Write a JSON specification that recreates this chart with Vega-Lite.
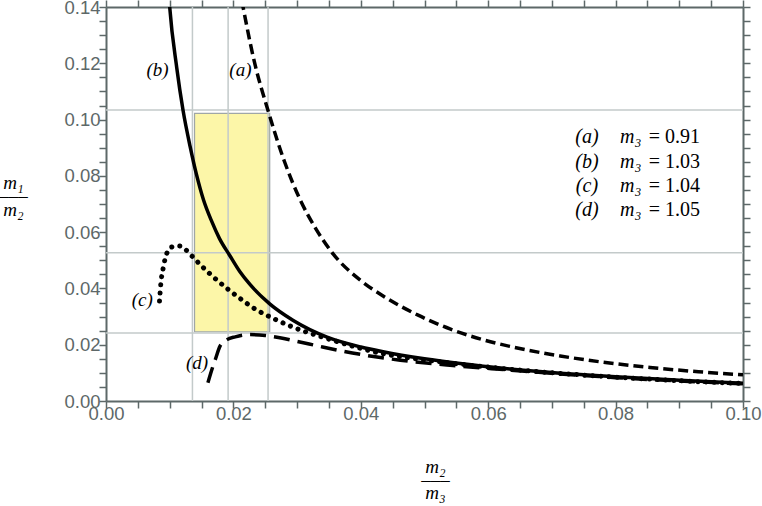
{
  "$schema": "https://vega.github.io/schema/vega-lite/v6.json",
  "width": 637,
  "height": 394,
  "autosize": {"type": "none"},
  "padding": {"left": 106, "top": 7, "right": 19, "bottom": 105},
  "background": "white",
  "config": {
    "view": {"stroke": null},
    "axis": {
      "grid": false,
      "domainColor": "#5d6868",
      "domainWidth": 2,
      "tickColor": "#5d6868",
      "tickWidth": 1.5,
      "labelColor": "#5d6868",
      "labelFont": "Liberation Sans",
      "labelFontSize": 18.5,
      "labelOverlap": false,
      "labelFlush": false,
      "labelBound": false
    }
  },
  "datasets": {
    "curves": [
      {"curve": "a", "x": 0.0213, "y": 0.1425},
      {"curve": "a", "x": 0.0234, "y": 0.1195},
      {"curve": "a", "x": 0.0254, "y": 0.1035},
      {"curve": "a", "x": 0.0280, "y": 0.0852},
      {"curve": "a", "x": 0.0305, "y": 0.0714},
      {"curve": "a", "x": 0.0330, "y": 0.0610},
      {"curve": "a", "x": 0.0355, "y": 0.0527},
      {"curve": "a", "x": 0.0400, "y": 0.0428},
      {"curve": "a", "x": 0.0435, "y": 0.0373},
      {"curve": "a", "x": 0.0490, "y": 0.0305},
      {"curve": "a", "x": 0.0540, "y": 0.0256},
      {"curve": "a", "x": 0.0590, "y": 0.0219},
      {"curve": "a", "x": 0.0634, "y": 0.0194},
      {"curve": "a", "x": 0.0713, "y": 0.0160},
      {"curve": "a", "x": 0.0780, "y": 0.0138},
      {"curve": "a", "x": 0.0854, "y": 0.0119},
      {"curve": "a", "x": 0.0930, "y": 0.0104},
      {"curve": "a", "x": 0.1000, "y": 0.0093},
      {"curve": "b", "x": 0.0099, "y": 0.1430},
      {"curve": "b", "x": 0.0100, "y": 0.1400},
      {"curve": "b", "x": 0.0111, "y": 0.1185},
      {"curve": "b", "x": 0.0121, "y": 0.1032},
      {"curve": "b", "x": 0.0132, "y": 0.0905},
      {"curve": "b", "x": 0.0142, "y": 0.0805},
      {"curve": "b", "x": 0.0153, "y": 0.0715},
      {"curve": "b", "x": 0.0166, "y": 0.0638},
      {"curve": "b", "x": 0.0178, "y": 0.0578},
      {"curve": "b", "x": 0.0194, "y": 0.0518},
      {"curve": "b", "x": 0.0210, "y": 0.0460},
      {"curve": "b", "x": 0.0226, "y": 0.0414},
      {"curve": "b", "x": 0.0257, "y": 0.0345},
      {"curve": "b", "x": 0.0294, "y": 0.0286},
      {"curve": "b", "x": 0.0347, "y": 0.0227},
      {"curve": "b", "x": 0.0400, "y": 0.0192},
      {"curve": "b", "x": 0.0435, "y": 0.0175},
      {"curve": "b", "x": 0.0500, "y": 0.0150},
      {"curve": "b", "x": 0.0556, "y": 0.0133},
      {"curve": "b", "x": 0.0634, "y": 0.0114},
      {"curve": "b", "x": 0.0713, "y": 0.0099},
      {"curve": "b", "x": 0.0800, "y": 0.0086},
      {"curve": "b", "x": 0.0900, "y": 0.0074},
      {"curve": "b", "x": 0.1000, "y": 0.0063},
      {"curve": "c", "x": 0.0084, "y": 0.0355},
      {"curve": "c", "x": 0.0086, "y": 0.0415},
      {"curve": "c", "x": 0.0090, "y": 0.0475},
      {"curve": "c", "x": 0.0095, "y": 0.0522},
      {"curve": "c", "x": 0.0103, "y": 0.0547},
      {"curve": "c", "x": 0.0115, "y": 0.0551},
      {"curve": "c", "x": 0.0125, "y": 0.0538},
      {"curve": "c", "x": 0.0135, "y": 0.0515},
      {"curve": "c", "x": 0.0150, "y": 0.0480},
      {"curve": "c", "x": 0.0165, "y": 0.0448},
      {"curve": "c", "x": 0.0190, "y": 0.0400},
      {"curve": "c", "x": 0.0210, "y": 0.0365},
      {"curve": "c", "x": 0.0237, "y": 0.0323},
      {"curve": "c", "x": 0.0263, "y": 0.0293},
      {"curve": "c", "x": 0.0294, "y": 0.0262},
      {"curve": "c", "x": 0.0347, "y": 0.0222},
      {"curve": "c", "x": 0.0435, "y": 0.0168},
      {"curve": "c", "x": 0.0500, "y": 0.0146},
      {"curve": "c", "x": 0.0556, "y": 0.0131},
      {"curve": "c", "x": 0.0634, "y": 0.0113},
      {"curve": "c", "x": 0.0713, "y": 0.0098},
      {"curve": "c", "x": 0.0800, "y": 0.0085},
      {"curve": "c", "x": 0.0900, "y": 0.0072},
      {"curve": "c", "x": 0.1000, "y": 0.0062},
      {"curve": "d", "x": 0.0160, "y": 0.0065},
      {"curve": "d", "x": 0.0166, "y": 0.0110},
      {"curve": "d", "x": 0.0172, "y": 0.0150},
      {"curve": "d", "x": 0.0179, "y": 0.0195},
      {"curve": "d", "x": 0.0190, "y": 0.0218},
      {"curve": "d", "x": 0.0203, "y": 0.0228},
      {"curve": "d", "x": 0.0226, "y": 0.0236},
      {"curve": "d", "x": 0.0250, "y": 0.0233},
      {"curve": "d", "x": 0.0275, "y": 0.0224},
      {"curve": "d", "x": 0.0300, "y": 0.0212},
      {"curve": "d", "x": 0.0340, "y": 0.0192},
      {"curve": "d", "x": 0.0372, "y": 0.0177},
      {"curve": "d", "x": 0.0420, "y": 0.0158},
      {"curve": "d", "x": 0.0462, "y": 0.0145},
      {"curve": "d", "x": 0.0540, "y": 0.0127},
      {"curve": "d", "x": 0.0634, "y": 0.0110},
      {"curve": "d", "x": 0.0713, "y": 0.0096},
      {"curve": "d", "x": 0.0800, "y": 0.0083},
      {"curve": "d", "x": 0.0900, "y": 0.0071},
      {"curve": "d", "x": 0.1000, "y": 0.0061}
    ],
    "vgrid": [{"v": 0.01357}, {"v": 0.01917}, {"v": 0.02544}],
    "hgrid": [{"v": 0.1034}, {"v": 0.0527}, {"v": 0.0242}],
    "box": [{"x1": 0.0139, "x2": 0.0257, "y1": 0.0246, "y2": 0.1022}],
    "tags": [
      {"t": "(a)", "x": 0.0211, "y": 0.1176},
      {"t": "(b)", "x": 0.00808, "y": 0.1176},
      {"t": "(c)", "x": 0.00568, "y": 0.0359},
      {"t": "(d)", "x": 0.0143, "y": 0.0134}
    ],
    "legend": [
      {"t": "(a)", "m": "m₃", "v": "= 0.91", "y": 0.0938},
      {"t": "(b)", "m": "m₃", "v": "= 1.03", "y": 0.0850},
      {"t": "(c)", "m": "m₃", "v": "= 1.04", "y": 0.0764},
      {"t": "(d)", "m": "m₃", "v": "= 1.05", "y": 0.0679}
    ]
  },
  "resolve": {"axis": {"x": "independent", "y": "independent"}},
  "layer": [
    {
      "data": {"name": "box"},
      "mark": {"type": "rect", "fill": "#fcf6a8", "stroke": "#9fa6a6", "strokeWidth": 1.2},
      "encoding": {
        "x": {
          "field": "x1", "type": "quantitative",
          "scale": {"domain": [0, 0.1], "nice": false, "zero": false},
          "axis": {
            "orient": "bottom",
            "values": [0, 0.005, 0.01, 0.015, 0.02, 0.025, 0.03, 0.035, 0.04, 0.045, 0.05, 0.055, 0.06, 0.065, 0.07, 0.075, 0.08, 0.085, 0.09, 0.095, 0.1],
            "labelExpr": "abs(datum.value*50 - round(datum.value*50)) < 0.001 ? format(datum.value, '.2f') : ''",
            "tickSize": 7,
            "labelPadding": -4,
            "encode": {"ticks": {"y2": {"value": {"expr": "abs(datum.value*50 - round(datum.value*50)) < 0.001 ? -7 : -4"}}}},
            "title": ["m₂", "–––", "m₃"],
            "titleFont": "Liberation Serif",
            "titleFontStyle": "italic",
            "titleFontWeight": "normal",
            "titleFontSize": 19,
            "titleColor": "black",
            "titleLineHeight": 13,
            "titleAlign": "center",
            "titleBaseline": "middle",
            "titleX": 329,
            "titleY": 65
          }
        },
        "x2": {"field": "x2"},
        "y": {
          "field": "y1", "type": "quantitative",
          "scale": {"domain": [0, 0.14], "nice": false, "zero": false},
          "axis": {
            "orient": "left",
            "values": [0, 0.005, 0.01, 0.015, 0.02, 0.025, 0.03, 0.035, 0.04, 0.045, 0.05, 0.055, 0.06, 0.065, 0.07, 0.075, 0.08, 0.085, 0.09, 0.095, 0.1, 0.105, 0.11, 0.115, 0.12, 0.125, 0.13, 0.135, 0.14],
            "labelExpr": "abs(datum.value*50 - round(datum.value*50)) < 0.001 ? format(datum.value, '.2f') : ''",
            "tickSize": 7,
            "labelPadding": -1,
            "encode": {"ticks": {"x2": {"value": {"expr": "abs(datum.value*50 - round(datum.value*50)) < 0.001 ? 7 : 4"}}}},
            "title": ["m₁", "–––", "m₂"],
            "titleFont": "Liberation Serif",
            "titleFontStyle": "italic",
            "titleFontWeight": "normal",
            "titleFontSize": 19,
            "titleColor": "black",
            "titleLineHeight": 13.5,
            "titleAngle": 0,
            "titleAlign": "center",
            "titleBaseline": "middle",
            "titleX": -93,
            "titleY": 175
          }
        },
        "y2": {"field": "y2"}
      }
    },
    {
      "data": {"name": "vgrid"},
      "mark": {"type": "rule", "color": "#c3caca", "strokeWidth": 1.5},
      "encoding": {
        "x": {"field": "v", "type": "quantitative", "scale": {"domain": [0, 0.1], "nice": false, "zero": false}, "axis": null}
      }
    },
    {
      "data": {"name": "hgrid"},
      "mark": {"type": "rule", "color": "#c3caca", "strokeWidth": 1.5},
      "encoding": {
        "y": {"field": "v", "type": "quantitative", "scale": {"domain": [0, 0.14], "nice": false, "zero": false}, "axis": null}
      }
    },
    {
      "data": {"name": "curves"},
      "transform": [{"filter": "datum.curve === 'a'"}],
      "mark": {"type": "line", "color": "black", "strokeWidth": 3.5, "strokeDash": [10, 5], "interpolate": "monotone", "clip": true},
      "encoding": {
        "x": {
          "field": "x", "type": "quantitative",
          "scale": {"domain": [0, 0.1], "nice": false, "zero": false},
          "axis": {
            "orient": "top",
            "values": [0, 0.005, 0.01, 0.015, 0.02, 0.025, 0.03, 0.035, 0.04, 0.045, 0.05, 0.055, 0.06, 0.065, 0.07, 0.075, 0.08, 0.085, 0.09, 0.095, 0.1],
            "labels": false,
            "title": null,
            "tickSize": 7,
            "encode": {"ticks": {"y2": {"value": {"expr": "abs(datum.value*50 - round(datum.value*50)) < 0.001 ? 7 : 4"}}}}
          }
        },
        "y": {
          "field": "y", "type": "quantitative",
          "scale": {"domain": [0, 0.14], "nice": false, "zero": false},
          "axis": {
            "orient": "right",
            "values": [0, 0.005, 0.01, 0.015, 0.02, 0.025, 0.03, 0.035, 0.04, 0.045, 0.05, 0.055, 0.06, 0.065, 0.07, 0.075, 0.08, 0.085, 0.09, 0.095, 0.1, 0.105, 0.11, 0.115, 0.12, 0.125, 0.13, 0.135, 0.14],
            "labels": false,
            "title": null,
            "tickSize": 7,
            "encode": {"ticks": {"x2": {"value": {"expr": "abs(datum.value*50 - round(datum.value*50)) < 0.001 ? -7 : -4"}}}}
          }
        }
      }
    },
    {
      "data": {"name": "curves"},
      "transform": [{"filter": "datum.curve === 'b'"}],
      "mark": {"type": "line", "color": "black", "strokeWidth": 3.5, "interpolate": "monotone", "clip": true},
      "encoding": {
        "x": {"field": "x", "type": "quantitative", "scale": {"domain": [0, 0.1], "nice": false, "zero": false}, "axis": null},
        "y": {"field": "y", "type": "quantitative", "scale": {"domain": [0, 0.14], "nice": false, "zero": false}, "axis": null}
      }
    },
    {
      "data": {"name": "curves"},
      "transform": [{"filter": "datum.curve === 'c'"}],
      "mark": {"type": "line", "color": "black", "strokeWidth": 5, "strokeDash": [0.1, 8], "strokeCap": "round", "interpolate": "monotone", "clip": true},
      "encoding": {
        "x": {"field": "x", "type": "quantitative", "scale": {"domain": [0, 0.1], "nice": false, "zero": false}, "axis": null},
        "y": {"field": "y", "type": "quantitative", "scale": {"domain": [0, 0.14], "nice": false, "zero": false}, "axis": null}
      }
    },
    {
      "data": {"name": "curves"},
      "transform": [{"filter": "datum.curve === 'd'"}],
      "mark": {"type": "line", "color": "black", "strokeWidth": 3.5, "strokeDash": [16, 8], "interpolate": "monotone", "clip": true},
      "encoding": {
        "x": {"field": "x", "type": "quantitative", "scale": {"domain": [0, 0.1], "nice": false, "zero": false}, "axis": null},
        "y": {"field": "y", "type": "quantitative", "scale": {"domain": [0, 0.14], "nice": false, "zero": false}, "axis": null}
      }
    },
    {
      "data": {"name": "tags"},
      "mark": {"type": "text", "font": "Liberation Serif", "fontStyle": "italic", "fontSize": 19, "color": "black", "align": "center", "baseline": "middle"},
      "encoding": {
        "x": {"field": "x", "type": "quantitative", "scale": {"domain": [0, 0.1], "nice": false, "zero": false}, "axis": null},
        "y": {"field": "y", "type": "quantitative", "scale": {"domain": [0, 0.14], "nice": false, "zero": false}, "axis": null},
        "text": {"field": "t"}
      }
    },
    {
      "data": {"name": "legend"},
      "mark": {"type": "text", "font": "Liberation Serif", "fontStyle": "italic", "fontSize": 20, "color": "black", "align": "center", "baseline": "middle"},
      "encoding": {
        "x": {"datum": 0.0755, "type": "quantitative", "scale": {"domain": [0, 0.1], "nice": false, "zero": false}, "axis": null},
        "y": {"field": "y", "type": "quantitative", "scale": {"domain": [0, 0.14], "nice": false, "zero": false}, "axis": null},
        "text": {"field": "t"}
      }
    },
    {
      "data": {"name": "legend"},
      "mark": {"type": "text", "font": "Liberation Serif", "fontStyle": "italic", "fontSize": 20, "color": "black", "align": "left", "baseline": "middle"},
      "encoding": {
        "x": {"datum": 0.0807, "type": "quantitative", "scale": {"domain": [0, 0.1], "nice": false, "zero": false}, "axis": null},
        "y": {"field": "y", "type": "quantitative", "scale": {"domain": [0, 0.14], "nice": false, "zero": false}, "axis": null},
        "text": {"field": "m"}
      }
    },
    {
      "data": {"name": "legend"},
      "mark": {"type": "text", "font": "Liberation Serif", "fontSize": 20, "color": "black", "align": "left", "baseline": "middle"},
      "encoding": {
        "x": {"datum": 0.0852, "type": "quantitative", "scale": {"domain": [0, 0.1], "nice": false, "zero": false}, "axis": null},
        "y": {"field": "y", "type": "quantitative", "scale": {"domain": [0, 0.14], "nice": false, "zero": false}, "axis": null},
        "text": {"field": "v"}
      }
    }
  ]
}
